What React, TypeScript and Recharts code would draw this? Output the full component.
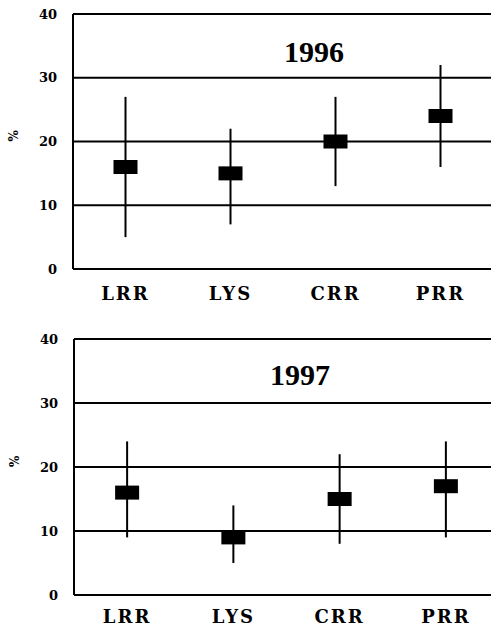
import React from "react";
import {
  CartesianGrid,
  ComposedChart,
  ErrorBar,
  Scatter,
  XAxis,
  YAxis,
} from "recharts";

const categories = ["LRR", "LYS", "CRR", "PRR"];
const yTicks = [0, 10, 20, 30, 40];

const mean1996 = [16, 15, 20, 24];
const low1996 = [5, 7, 13, 16];
const high1996 = [27, 22, 27, 32];

const mean1997 = [16, 9, 15, 17];
const low1997 = [9, 5, 8, 9];
const high1997 = [24, 14, 22, 24];

const TITLE_FONT = "'Liberation Serif', 'DejaVu Serif', serif";
const AXIS_FONT = "'DejaVu Serif', 'Liberation Serif', serif";

function buildRows(mean: number[], low: number[], high: number[]) {
  return categories.map((name, i) => ({
    name,
    value: mean[i],
    err: [mean[i] - low[i], high[i] - mean[i]],
  }));
}

const Marker = (props: any) => {
  const { cx, cy } = props;
  if (cx == null || cy == null) return null;
  return <rect x={cx - 12} y={cy - 7} width={24} height={14} fill="#000" />;
};

function Panel({
  title,
  rows,
  top,
  width,
  height,
  margin,
  titleX,
  titleY,
  labelGap,
}: {
  title: string;
  rows: ReturnType<typeof buildRows>;
  top: number;
  width: number;
  height: number;
  margin: { top: number; right: number; bottom: number; left: number };
  titleX: number;
  titleY: number;
  labelGap: number;
}) {
  return (
    <div style={{ position: "absolute", left: 0, top, width: 491, height, overflow: "hidden" }}>
      <ComposedChart width={width} height={height} data={rows} margin={margin}>
        <CartesianGrid vertical={false} stroke="#000" strokeWidth={2} />
        <XAxis
          dataKey="name"
          type="category"
          scale="band"
          axisLine={{ stroke: "#000", strokeWidth: 2 }}
          tickLine={false}
          tickMargin={labelGap}
          height={30}
          tick={{ fill: "#000", fontFamily: AXIS_FONT, fontWeight: 700, fontSize: 18, letterSpacing: 2 }}
        />
        <YAxis
          type="number"
          domain={[0, 40]}
          ticks={yTicks}
          width={73}
          axisLine={{ stroke: "#000", strokeWidth: 2 }}
          tickLine={false}
          tickMargin={10}
          tick={{ fill: "#000", fontFamily: AXIS_FONT, fontWeight: 700, fontSize: 13 }}
          label={{
            value: "%",
            angle: -90,
            position: "insideLeft",
            offset: 14,
            style: { fill: "#000", fontFamily: AXIS_FONT, fontWeight: 700, fontSize: 12 },
          }}
        />
        <Scatter dataKey="value" shape={Marker} isAnimationActive={false}>
          <ErrorBar dataKey="err" direction="y" width={0} stroke="#000" strokeWidth={2} />
        </Scatter>
      </ComposedChart>
      <div
        style={{
          position: "absolute",
          left: titleX,
          top: titleY,
          transform: "translate(-50%, -50%)",
          fontFamily: TITLE_FONT,
          fontWeight: 700,
          fontSize: 30,
          color: "#000",
          lineHeight: 1,
        }}
      >
        {title}
      </div>
    </div>
  );
}

export default function App() {
  return (
    <div style={{ position: "absolute", left: 0, top: 0, width: 491, height: 628, background: "#fff" }}>
      <Panel
        title="1996"
        rows={buildRows(mean1996, low1996, high1996)}
        top={0}
        width={493}
        height={310}
        margin={{ top: 14, right: 0, bottom: 11, left: 0 }}
        titleX={314}
        titleY={52}
        labelGap={12}
      />
      <Panel
        title="1997"
        rows={buildRows(mean1997, low1997, high1997)}
        top={320}
        width={499}
        height={308}
        margin={{ top: 19, right: 0, bottom: 3, left: 1 }}
        titleX={300}
        titleY={55}
        labelGap={9}
      />
    </div>
  );
}
